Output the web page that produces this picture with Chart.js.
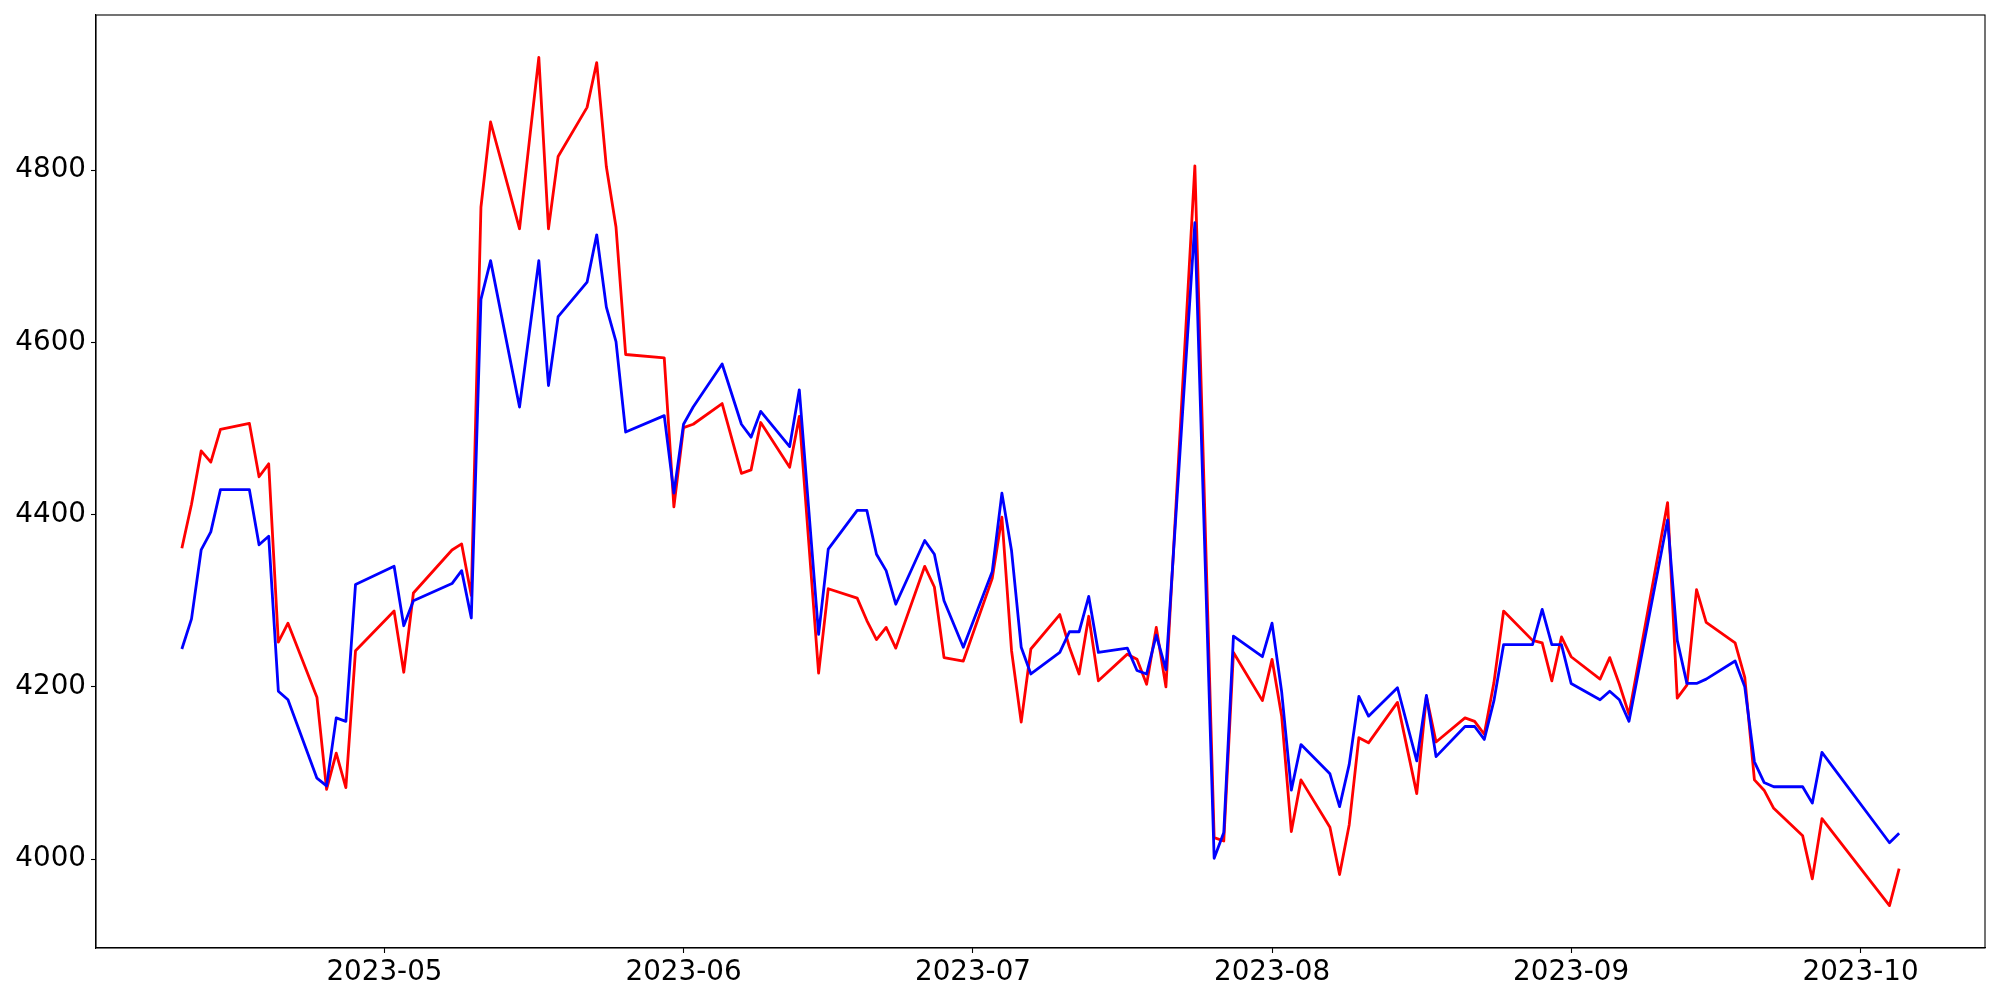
<!DOCTYPE html>
<html lang="en">
  <head>
    <meta charset="utf-8" />
    <title>Two series over time</title>
    <style>
      * {
        margin: 0;
        padding: 0;
      }
      body {
        background: white;
      }
      .chartBox {
        width: 2000px;
        height: 1000px;
      }
    </style>
  </head>
  <body>
    <div class="chartBox">
      <canvas id="myChart" width="2000" height="1000"></canvas>
    </div>

    <script src="https://cdn.jsdelivr.net/npm/chart.js@4.4.0/dist/chart.umd.min.js"></script>

    <script>
      const dates = [
        "2023-04-10", "2023-04-11", "2023-04-12", "2023-04-13", "2023-04-14",
        "2023-04-17", "2023-04-18", "2023-04-19", "2023-04-20", "2023-04-21",
        "2023-04-24", "2023-04-25", "2023-04-26", "2023-04-27", "2023-04-28",
        "2023-05-02", "2023-05-03", "2023-05-04", "2023-05-08", "2023-05-09",
        "2023-05-10", "2023-05-11", "2023-05-12", "2023-05-15", "2023-05-16",
        "2023-05-17", "2023-05-18", "2023-05-19", "2023-05-22", "2023-05-23",
        "2023-05-24", "2023-05-25", "2023-05-26", "2023-05-30", "2023-05-31",
        "2023-06-01", "2023-06-02", "2023-06-05", "2023-06-07", "2023-06-08",
        "2023-06-09", "2023-06-12", "2023-06-13", "2023-06-14", "2023-06-15",
        "2023-06-16", "2023-06-19", "2023-06-20", "2023-06-21", "2023-06-22",
        "2023-06-23", "2023-06-26", "2023-06-27", "2023-06-28", "2023-06-30",
        "2023-07-03", "2023-07-04", "2023-07-05", "2023-07-06", "2023-07-07",
        "2023-07-10", "2023-07-11", "2023-07-12", "2023-07-13", "2023-07-14",
        "2023-07-17", "2023-07-18", "2023-07-19", "2023-07-20", "2023-07-21",
        "2023-07-24", "2023-07-26", "2023-07-27", "2023-07-28", "2023-07-31",
        "2023-08-01", "2023-08-02", "2023-08-03", "2023-08-04", "2023-08-07",
        "2023-08-08", "2023-08-09", "2023-08-10", "2023-08-11", "2023-08-14",
        "2023-08-16", "2023-08-17", "2023-08-18", "2023-08-21", "2023-08-22",
        "2023-08-23", "2023-08-24", "2023-08-25", "2023-08-28", "2023-08-29",
        "2023-08-30", "2023-08-31", "2023-09-01", "2023-09-04", "2023-09-05",
        "2023-09-06", "2023-09-07", "2023-09-11", "2023-09-12", "2023-09-13",
        "2023-09-14", "2023-09-15", "2023-09-18", "2023-09-19", "2023-09-20",
        "2023-09-21", "2023-09-22", "2023-09-25", "2023-09-26", "2023-09-27",
        "2023-10-04", "2023-10-05",
      ];

      const redValues = [
        4361, 4412, 4474, 4461, 4499,
        4506, 4444, 4459, 4252, 4274,
        4188, 4081, 4123, 4083, 4242,
        4288, 4217, 4309, 4359, 4366,
        4306, 4757, 4856, 4732, 4832,
        4931, 4732, 4816, 4873, 4925,
        4804, 4734, 4586, 4582, 4409,
        4501, 4505, 4529, 4448, 4452,
        4507, 4455, 4514, 4365, 4216,
        4314, 4303, 4277, 4255, 4269,
        4245, 4340, 4316, 4234, 4230,
        4326, 4397, 4242, 4159, 4244,
        4284, 4246, 4215, 4282, 4207,
        4238, 4232, 4203, 4269, 4200,
        4805, 4025, 4021, 4240, 4184,
        4232, 4166, 4032, 4092, 4037,
        3982, 4040, 4141, 4135, 4182,
        4076, 4189, 4136, 4164, 4160,
        4145, 4205, 4288, 4254, 4251,
        4207, 4258, 4235, 4209, 4234,
        4203, 4168, 4414, 4187, 4202,
        4313, 4275, 4251, 4211, 4092,
        4080, 4059, 4027, 3977, 4047,
        3946, 3989,
      ];

      const blueValues = [
        4244, 4279, 4359, 4380, 4429,
        4429, 4365, 4375, 4195, 4185,
        4094, 4085, 4164, 4160, 4319,
        4340, 4271, 4300, 4320, 4335,
        4280, 4650, 4695, 4525, 4610,
        4695, 4550, 4630, 4670, 4725,
        4641, 4601, 4496, 4515, 4425,
        4505, 4525, 4575, 4505, 4490,
        4520, 4479, 4545, 4403, 4261,
        4360, 4405, 4405, 4354, 4335,
        4296, 4370, 4354, 4300, 4246,
        4334, 4425, 4358, 4246, 4215,
        4240, 4264, 4264, 4305, 4240,
        4245, 4219, 4215, 4260, 4220,
        4739, 4001, 4031, 4259, 4235,
        4274, 4194, 4080, 4133, 4099,
        4061, 4110, 4189, 4166, 4199,
        4114, 4190, 4119, 4154, 4154,
        4139, 4184, 4249, 4249, 4290,
        4249, 4249, 4204, 4185, 4195,
        4185, 4160, 4394, 4254, 4204,
        4204, 4209, 4230, 4200, 4113,
        4089, 4084, 4084, 4065, 4124,
        4019, 4030,
      ];

      const monthTicks = ["2023-05-01", "2023-06-01", "2023-07-01", "2023-08-01", "2023-09-01", "2023-10-01"];
      const yTicks = [4000, 4200, 4400, 4600, 4800];

      const DAY = 86400000;
      const toDay = (s) => {
        const [y, m, d] = s.split("-").map(Number);
        return Date.UTC(y, m - 1, d) / DAY;
      };
      const dayLabel = (v) => {
        const dt = new Date(v * DAY);
        return dt.getUTCFullYear() + "-" + String(dt.getUTCMonth() + 1).padStart(2, "0");
      };

      const xs = dates.map(toDay);
      const xSpan = xs[xs.length - 1] - xs[0];
      const allY = redValues.concat(blueValues);
      const yLo = Math.min(...allY);
      const yHi = Math.max(...allY);
      const ySpan = yHi - yLo;

      const tickFont = { family: "'DejaVu Sans', sans-serif", size: 27.78 };

      // matplotlib-style box round the axes
      const frame = {
        id: "frame",
        afterDatasetsDraw(chart) {
          const { ctx, chartArea } = chart;
          ctx.save();
          ctx.strokeStyle = "black";
          ctx.lineWidth = 1.1;
          ctx.strokeRect(chartArea.left, chartArea.top, chartArea.right - chartArea.left, chartArea.bottom - chartArea.top);
          ctx.restore();
        },
      };

      const config = {
        type: "line",
        data: {
          datasets: [
            {
              label: "red",
              data: xs.map((x, i) => ({ x: x, y: redValues[i] })),
              borderColor: "#ff0000",
              borderWidth: 2.8,
              pointRadius: 0,
              tension: 0,
              order: 1,
            },
            {
              label: "blue",
              data: xs.map((x, i) => ({ x: x, y: blueValues[i] })),
              borderColor: "#0000ff",
              borderWidth: 2.8,
              pointRadius: 0,
              tension: 0,
              order: 0,
            },
          ],
        },
        options: {
          responsive: false,
          animation: false,
          borderJoinStyle: "round",
          layout: { padding: { top: 15, right: 15, left: 0, bottom: 0 } },
          scales: {
            x: {
              type: "linear",
              min: xs[0] - 0.05 * xSpan,
              max: xs[xs.length - 1] + 0.05 * xSpan,
              afterBuildTicks(scale) {
                scale.ticks = monthTicks.map((s) => ({ value: toDay(s) }));
              },
              afterFit(scale) {
                scale.height = 52;
                scale.paddingLeft = 0;
                scale.paddingRight = 0;
              },
              grid: {
                drawOnChartArea: false,
                drawTicks: true,
                tickLength: 5,
                tickColor: "black",
                tickWidth: 1.1,
              },
              border: { display: true, color: "black", width: 1.1 },
              ticks: {
                font: tickFont,
                color: "black",
                padding: 3,
                maxRotation: 0,
                autoSkip: false,
                callback: (v) => dayLabel(v),
              },
            },
            y: {
              type: "linear",
              min: yLo - 0.05 * ySpan,
              max: yHi + 0.05 * ySpan,
              afterBuildTicks(scale) {
                scale.ticks = yTicks.map((v) => ({ value: v }));
              },
              afterFit(scale) {
                scale.width = 96;
                scale.paddingTop = 0;
                scale.paddingBottom = 0;
              },
              grid: {
                drawOnChartArea: false,
                drawTicks: true,
                tickLength: 5,
                tickColor: "black",
                tickWidth: 1.1,
              },
              border: { display: true, color: "black", width: 1.1 },
              ticks: {
                font: tickFont,
                color: "black",
                padding: 5,
                autoSkip: false,
                callback: (v) => String(v),
              },
            },
          },
          plugins: {
            legend: { display: false },
            tooltip: { enabled: false },
          },
        },
        plugins: [frame],
      };

      const myChart = new Chart(document.getElementById("myChart"), config);
    </script>
  </body>
</html>
